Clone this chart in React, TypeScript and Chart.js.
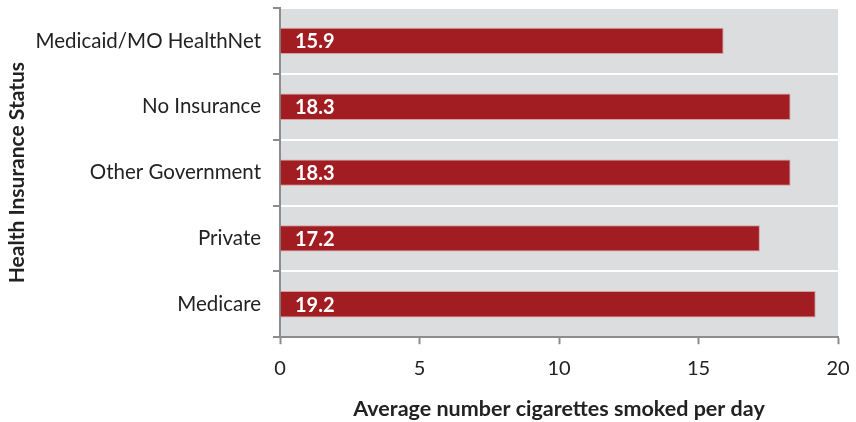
import React, { useEffect, useRef } from "react";
import { Chart, registerables } from "chart.js";

Chart.register(...registerables);

const categories = [
  "Medicaid/MO HealthNet",
  "No Insurance",
  "Other Government",
  "Private",
  "Medicare",
];
const cigarettesPerDay = [15.9, 18.3, 18.3, 17.2, 19.2];
const xTicks = [0, 5, 10, 15, 20];

const FONT = "Lato, 'Open Sans', sans-serif";
const BAR_COLOR = "#A11D22";
const PLOT_BG = "#DCDDDF";
const AXIS_GRAY = "#8C8C8C";
const TEXT = "#222222";

// Gray plot background behind the bars
const plotBackground = {
  id: "plotBackground",
  beforeDraw(chart: any) {
    const { ctx, chartArea } = chart;
    ctx.save();
    ctx.fillStyle = PLOT_BG;
    ctx.fillRect(chartArea.left, chartArea.top, chartArea.right - chartArea.left, chartArea.bottom - chartArea.top);
    ctx.restore();
  },
};

// White value labels drawn inside each bar, near its base
const valueLabels = {
  id: "valueLabels",
  afterDatasetsDraw(chart: any) {
    const { ctx } = chart;
    const meta = chart.getDatasetMeta(0);
    const xScale = chart.scales.x;
    ctx.save();
    ctx.fillStyle = "#FFFFFF";
    ctx.font = `bold 20px ${FONT}`;
    ctx.textAlign = "left";
    ctx.textBaseline = "middle";
    meta.data.forEach((bar: any, i: number) => {
      const v = cigarettesPerDay[i];
      ctx.fillText(v.toFixed(1), xScale.getPixelForValue(0) + 15, bar.y + 1);
    });
    ctx.restore();
  },
};

export default function App() {
  const canvasRef = useRef<HTMLCanvasElement | null>(null);

  useEffect(() => {
    document.body.style.margin = "0";
    const canvas = canvasRef.current;
    if (!canvas) return;
    const chart = new Chart(canvas, {
      type: "bar",
      data: {
        labels: categories,
        datasets: [
          {
            data: cigarettesPerDay,
            backgroundColor: BAR_COLOR,
            borderColor: "rgba(214,150,152,0.9)",
            borderWidth: 1,
            barPercentage: 0.4,
            categoryPercentage: 1,
          },
        ],
      },
      options: {
        indexAxis: "y",
        animation: false,
        responsive: false,
        maintainAspectRatio: false,
        layout: { padding: { top: 8, right: 18, bottom: 0, left: 5 } },
        plugins: {
          legend: { display: false },
          tooltip: { enabled: false },
        },
        scales: {
          x: {
            min: 0,
            max: 20,
            afterBuildTicks(axis: any) {
              axis.ticks = xTicks.map((v) => ({ value: v }));
            },
            afterFit(axis: any) {
              axis.paddingRight = 0;
            },
            border: { display: true, color: AXIS_GRAY, width: 2 },
            grid: {
              drawOnChartArea: false,
              drawTicks: true,
              tickLength: 7,
              tickColor: AXIS_GRAY,
              tickWidth: 2,
            },
            ticks: {
              color: TEXT,
              font: { family: FONT, size: 20 },
              padding: 12,
              maxRotation: 0,
            },
            title: {
              display: true,
              text: "Average number cigarettes smoked per day",
              color: TEXT,
              font: { family: FONT, size: 21.5, weight: "bold" },
              padding: { top: 4, bottom: 0 },
            },
          },
          y: {
            afterFit(axis: any) {
              axis.paddingTop = 0;
              axis.paddingBottom = 0;
              axis.width = 275;
            },
            border: { display: true, color: AXIS_GRAY, width: 2 },
            grid: {
              color: "#FFFFFF",
              lineWidth: 2,
              drawTicks: true,
              tickLength: 7,
              tickColor: AXIS_GRAY,
              tickWidth: 2,
              offset: true,
            },
            ticks: {
              color: TEXT,
              font: { family: FONT, size: 20.5 },
              padding: 12,
            },
            title: {
              display: true,
              text: "Health Insurance Status",
              color: TEXT,
              font: { family: FONT, size: 21, weight: "bold" },
              padding: { top: 0, bottom: 6 },
            },
          },
        },
      },
      plugins: [plotBackground, valueLabels],
    });
    return () => chart.destroy();
  }, []);

  return (
    <div style={{ position: "fixed", left: 0, top: 0, width: 856, height: 422 }}>
      <canvas ref={canvasRef} width={856} height={422} style={{ display: "block" }} />
    </div>
  );
}
